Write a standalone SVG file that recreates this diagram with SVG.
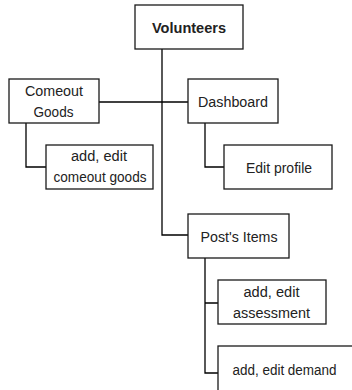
<svg xmlns="http://www.w3.org/2000/svg" width="352" height="390" viewBox="0 0 352 390">
  <style>
    .box { fill: #ffffff; stroke: #1a1a1a; stroke-width: 1.3; }
    .wire { fill: none; stroke: #000000; stroke-width: 1.3; }
    .lbl { font-family: "Liberation Sans", Arial, sans-serif; font-size: 15.5px; fill: #222222; text-anchor: middle; }
    .title { font-weight: bold; }
  </style>
  <rect width="352" height="390" fill="#ffffff"/>

  <!-- connectors -->
  <g id="connectors">
    <path class="wire" d="M162,49 V235 H188"/>
    <path class="wire" d="M99,102 H188"/>
    <path class="wire" d="M26,123 V167 H46"/>
    <path class="wire" d="M205,123 V167 H224"/>
    <path class="wire" d="M205,258 V373 H218 M205,303 H218"/>
  </g>

  <g id="volunteers">
    <rect class="box" x="135" y="5" width="108" height="44"/>
    <text class="lbl title" x="189" y="33" textLength="74" lengthAdjust="spacingAndGlyphs">Volunteers</text>
  </g>

  <g id="comeout-goods">
    <rect class="box" x="9" y="79" width="90" height="44"/>
    <text class="lbl" x="54" y="96" textLength="58" lengthAdjust="spacingAndGlyphs">Comeout</text>
    <text class="lbl" x="53.5" y="116.5" textLength="40" lengthAdjust="spacingAndGlyphs">Goods</text>
  </g>

  <g id="edit-comeout-goods">
    <rect class="box" x="46" y="145" width="107" height="44"/>
    <text class="lbl" x="99" y="161" textLength="56" lengthAdjust="spacingAndGlyphs">add, edit</text>
    <text class="lbl" x="100" y="181.5" textLength="93" lengthAdjust="spacingAndGlyphs">comeout goods</text>
  </g>

  <g id="dashboard">
    <rect class="box" x="188" y="79" width="90" height="44"/>
    <text class="lbl" x="233" y="106.5" textLength="70" lengthAdjust="spacingAndGlyphs">Dashboard</text>
  </g>

  <g id="edit-profile">
    <rect class="box" x="224" y="145" width="108" height="44"/>
    <text class="lbl" x="279" y="173" textLength="66" lengthAdjust="spacingAndGlyphs">Edit profile</text>
  </g>

  <g id="posts-items">
    <rect class="box" x="188" y="214" width="101" height="44"/>
    <text class="lbl" x="239" y="242" textLength="77" lengthAdjust="spacingAndGlyphs">Post's Items</text>
  </g>

  <g id="edit-assessment">
    <rect class="box" x="218" y="280" width="108" height="44"/>
    <text class="lbl" x="271.5" y="297" textLength="56" lengthAdjust="spacingAndGlyphs">add, edit</text>
    <text class="lbl" x="271.5" y="318" textLength="77" lengthAdjust="spacingAndGlyphs">assessment</text>
  </g>

  <g id="edit-demand">
    <rect class="box" x="218" y="346" width="140" height="50"/>
    <text class="lbl" x="284.5" y="375" textLength="104" lengthAdjust="spacingAndGlyphs">add, edit demand</text>
  </g>
</svg>
